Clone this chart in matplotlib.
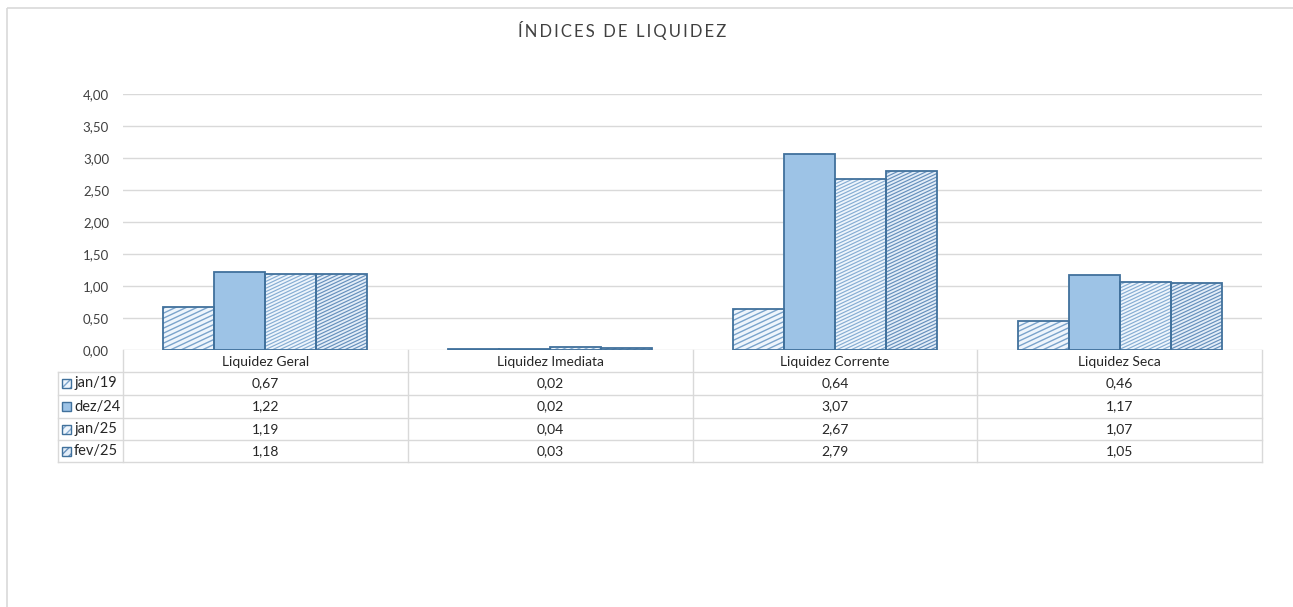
import matplotlib
matplotlib.use("Agg")
import matplotlib.pyplot as plt
from matplotlib.patches import Rectangle
from matplotlib.collections import LineCollection
import numpy as np

plt.rcParams['font.family'] = ['Lato', 'DejaVu Sans']

categories = ["Liquidez Geral", "Liquidez Imediata", "Liquidez Corrente", "Liquidez Seca"]
series_names = ["jan/19", "dez/24", "jan/25", "fev/25"]
jan19 = [0.67, 0.02, 0.64, 0.46]
dez24 = [1.22, 0.02, 3.07, 1.17]
jan25 = [1.19, 0.04, 2.67, 1.07]
fev25 = [1.18, 0.03, 2.79, 1.05]
y_ticks = [0.0, 0.5, 1.0, 1.5, 2.0, 2.5, 3.0, 3.5, 4.0]
title = "ÍNDICES DE LIQUIDEZ"

series = [jan19, dez24, jan25, fev25]
edge = "#41719C"
styles = [
    dict(face="#EEF5FC", spacing=5.0, hcol="#7AA3CB", hlw=1.0),
    dict(face="#9DC3E6", spacing=None, hcol=None, hlw=None),
    dict(face="#EEF5FC", spacing=3.4, hcol="#86ADD3", hlw=0.85),
    dict(face="#E3EDF8", spacing=3.4, hcol="#6690BC", hlw=0.85),
]

W, H = 1293, 607
fig = plt.figure(figsize=(W / 100, H / 100), dpi=100)

def fx(px):
    return px / W

def fy(py):
    return 1 - py / H

# overlay axes in pixel coordinates for frame and table
ov = fig.add_axes([0, 0, 1, 1], zorder=0)
ov.set_xlim(0, W)
ov.set_ylim(H, 0)
ov.axis("off")
ov.add_patch(Rectangle((7, 8), W + 20, H + 20, fill=False, edgecolor="#D9D9D9", lw=1.2))

# chart axes
x0, x1, ytop, ybot = 123, 1262, 94, 350
ax = fig.add_axes([fx(x0), fy(ybot), fx(x1) - fx(x0), (ybot - ytop) / H], zorder=2)
ax.patch.set_alpha(0)
n = len(categories)
x = np.arange(n)
bw = 0.179
slope = 0.47

def hatch_lines(spacing):
    segs = []
    xa, xb = 100, 1290
    c = 80.0
    while c < 360 + slope * xb:
        segs.append([(xa, c - slope * xa), (xb, c - slope * xb)])
        c += spacing
    return segs

for i, (vals, st) in enumerate(zip(series, styles)):
    pos = x + (i - 1.5) * bw
    bars = ax.bar(pos, vals, bw, color=st["face"], lw=0, zorder=3)
    if st["spacing"]:
        segs = hatch_lines(st["spacing"])
        for b in bars:
            lc_ = LineCollection(segs, colors=st["hcol"], linewidths=st["hlw"],
                                 transform=ov.transData, zorder=3.5)
            ax.add_collection(lc_, autolim=False)
            lc_.set_clip_path(b)
    ax.bar(pos, vals, bw, fill=False, edgecolor=edge, lw=1.3, zorder=4)
ax.set_xlim(-0.5, n - 0.5)
ax.set_ylim(0, 4)
ax.set_yticks(y_ticks)
ax.set_yticklabels([f"{v:.2f}".replace(".", ",") for v in y_ticks], fontsize=9.5, color="#404040")
ax.tick_params(axis="y", length=0, pad=10)
ax.set_xticks([])
for s in ax.spines.values():
    s.set_visible(False)
ax.grid(axis="y", color="#D9D9D9", lw=1)
ax.set_axisbelow(True)

# title
spaced = "\u2009".join(list(title)).replace("\u2009 \u2009", "\u2009\u2009\u2009\u2009")
ov.text(622, 30, spaced, ha="center", va="center", fontsize=12, color="#404040")

# data table
lc = "#D9D9D9"
colw = (x1 - x0) / n
col_edges = [x0 + k * colw for k in range(n + 1)]
row_edges = [350, 372, 395, 418, 440, 462]
leg_left = 58
for cx in col_edges:
    ov.plot([cx, cx], [row_edges[0], row_edges[-1]], color=lc, lw=1)
ov.plot([leg_left, leg_left], [row_edges[1], row_edges[-1]], color=lc, lw=1)
for ry in row_edges[1:]:
    ov.plot([leg_left, x1], [ry, ry], color=lc, lw=1)
for k, c in enumerate(categories):
    ov.text((col_edges[k] + col_edges[k + 1]) / 2, (row_edges[0] + row_edges[1]) / 2 + 1.5, c,
            ha="center", va="center", fontsize=10, color="#262626")
for r, (name, vals, st) in enumerate(zip(series_names, series, styles)):
    cy = (row_edges[r + 1] + row_edges[r + 2]) / 2
    if st["spacing"]:
        ov.add_patch(Rectangle((62, cy - 4.5), 9, 9, facecolor=st["face"], edgecolor=st["hcol"],
                               hatch="////", lw=0, zorder=3))
    else:
        ov.add_patch(Rectangle((62, cy - 4.5), 9, 9, facecolor=st["face"], lw=0, zorder=3))
    ov.add_patch(Rectangle((62, cy - 4.5), 9, 9, fill=False, edgecolor=edge, lw=1, zorder=4))
    ov.text(74, cy, name, ha="left", va="center", fontsize=10.5, color="#262626")
    for k, v in enumerate(vals):
        ov.text((col_edges[k] + col_edges[k + 1]) / 2, cy, f"{v:.2f}".replace(".", ","),
                ha="center", va="center", fontsize=10, color="#262626")

fig.savefig("out.png", dpi=100)
